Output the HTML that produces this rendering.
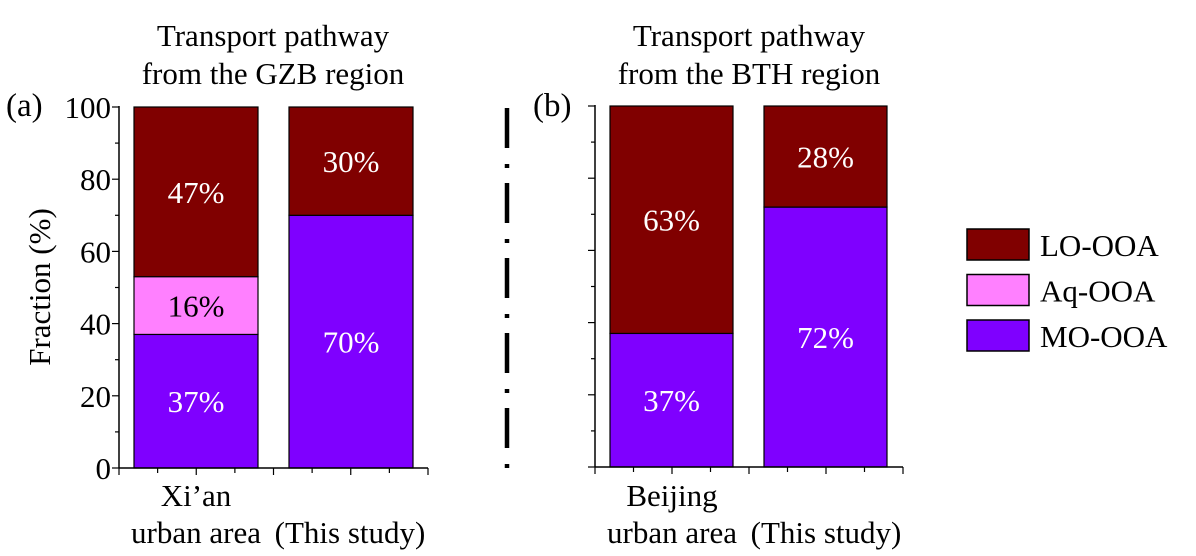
<!DOCTYPE html>
<html><head><meta charset="utf-8"><style>
body{margin:0;background:#fff}
svg{display:block}
svg text{font-family:"Liberation Serif","Times New Roman","DejaVu Serif",serif}
</style></head><body>
<svg id="c" width="1196" height="556"></svg>
<script>
const categoriesA=["Xi’an urban area","(This study)"];
const categoriesB=["Beijing urban area","(This study)"];
const seriesNames=["MO-OOA","Aq-OOA","LO-OOA"];
const moA=[37,70], aqA=[16,0], loA=[47,30];
const moB=[37,72], aqB=[0,0], loB=[63,28];
const yTicks=[0,20,40,60,80,100];
const colors={"MO-OOA":"#7f00ff","Aq-OOA":"#ff80ff","LO-OOA":"#800000"};
const NS="http://www.w3.org/2000/svg";
const svg=document.getElementById('c');
const FS=31;
function mk(t,a,p){const e=document.createElementNS(NS,t);for(const k in a)e.setAttribute(k,a[k]);(p||svg).appendChild(e);return e;}
function txt(s,x,y,a,p){const e=mk('text',Object.assign({x:x,y:y,'font-size':FS,'text-anchor':'middle','font-family':'Liberation Serif, serif'},a||{}),p);e.textContent=s;return e;}

function panel(name,ax,y0,y100,barX,barW,xEnd,mo,aq,lo,showLabels){
  const g=mk('g',{});
  
  
  const y=v=>y0-(y0-y100)*v/100;
  const series=[["MO-OOA",mo],["Aq-OOA",aq],["LO-OOA",lo]];
  for(let i=0;i<barX.length;i++){
    let cum=0;
    for(const [sn,arr] of series){
      const v=arr[i]; if(!v){continue;}
      const r=mk('rect',{x:barX[i],y:y(cum+v),width:barW,height:y(cum)-y(cum+v),fill:colors[sn],stroke:'#000','stroke-width':1.2},g);
      
      
      const t=txt(v+'%',barX[i]+barW/2,y(cum+v/2)+11,{fill:sn==='Aq-OOA'?'#000':'#fff'},g);
      
      
      cum+=v;
    }
  }
  mk('line',{x1:ax,y1:y100-1,x2:ax,y2:y0,stroke:'#000','stroke-width':1.5},g);
  mk('line',{x1:ax,y1:y0,x2:xEnd,y2:y0,stroke:'#000','stroke-width':1.5},g);
  for(let v=0;v<=100;v+=10){
    const major=v%20===0;
    mk('line',{x1:ax-(major?7:4),y1:y(v),x2:ax,y2:y(v),stroke:'#000','stroke-width':1.2},g);
  }
  if(showLabels){
    for(const v of yTicks){
      const t=txt(String(v),ax-8,y(v)+11,{'text-anchor':'end'},g);
      
      
    }
  }
  const step=(xEnd-ax)/8;
  for(let k=0;k<=8;k++){
    mk('line',{x1:ax+k*step,y1:y0,x2:ax+k*step,y2:y0+(k%2?5:7),stroke:'#000','stroke-width':1.2},g);
  }
  return y;
}
panel('panel-a',119,468,107,[134,289],124,428,moA,aqA,loA,true);
panel('panel-b',595,467,106,[610,764],123,903,moB,aqB,loB,false);

function lbl(s,x,y,name,a){const t=txt(s,x,y,a);return t;}
lbl('Transport pathway',273,46,'title-a-line1');
lbl('from the GZB region',273,84,'title-a-line2');
lbl('Transport pathway',749,46,'title-b-line1');
lbl('from the BTH region',749,84,'title-b-line2');
lbl('(a)',6,116,'panel-a-label',{'text-anchor':'start','font-size':33});
lbl('(b)',533,116,'panel-b-label',{'text-anchor':'start','font-size':33});
const yt=lbl('Fraction (%)',0,0,'y-axis-title');
yt.setAttribute('transform','translate(50,287) rotate(-90)');
lbl('Xi’an',196,506,'x-label-xian');
lbl('urban area',196,543,'x-label-xian-2');
lbl('(This study)',350,543,'x-label-this-study-a');
lbl('Beijing',672,506,'x-label-beijing');
lbl('urban area',672,543,'x-label-beijing-2');
lbl('(This study)',826,543,'x-label-this-study-b');
const d=mk('line',{x1:507,y1:108,x2:507,y2:468,stroke:'#000','stroke-width':4.5,'stroke-dasharray':'40 16 4 15'});


const legOrder=["LO-OOA","Aq-OOA","MO-OOA"];
legOrder.forEach((sn,i)=>{
  const g=mk('g',{});
  
  
  mk('rect',{x:967,y:229+i*45.5,width:62,height:31,fill:colors[sn],stroke:'#000','stroke-width':1.5},g);
  txt(sn,1040,256+i*45.5,{'text-anchor':'start'},g);
});
</script>
</body></html>
